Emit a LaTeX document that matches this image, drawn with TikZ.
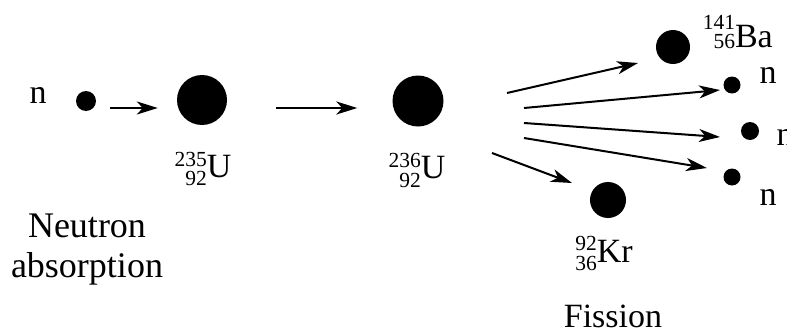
\documentclass[tikz,border=0pt]{standalone}
\usepackage{fontspec}
\setmainfont{Liberation Serif}
\usetikzlibrary{arrows.meta}
\newcommand\supsz{\fontsize{21.5}{21.5}\selectfont}
% \nuc{mass}{charge}{symbol}{raise of mass}{lowering of charge}
\newcommand\nuc[5]{{\supsz\setbox0\hbox{#1}\setbox2\hbox{#2}%
  \dimen0=\wd0 \ifdim\wd2>\dimen0 \dimen0=\wd2\fi
  \hbox to\dimen0{\hss\raise#4\box0}\llap{\lower#5\box2}}#3}
\begin{document}
\begin{tikzpicture}[x=1pt,y=-1pt,
  txt/.style={inner sep=0pt, anchor=base, font=\fontsize{34}{40}\selectfont},
  big/.style={font=\fontsize{36}{40}\selectfont},
  ball/.style={circle, fill=black, inner sep=0pt, minimum size=#1},
  arr/.style={line width=2pt, -{Stealth[length=21pt, width=13pt, inset=6pt]}}]
\useasboundingbox (0,0) rectangle (787,332);
% particles
\node[ball=20pt] (d0) at (86,101) {};
\node[ball=50pt] (u235) at (202,100) {};
\node[ball=51pt] (u236) at (418,101) {};
\node[ball=34pt] (ba) at (673,47) {};
\node[ball=17pt] (n1) at (732,85) {};
\node[ball=18pt] (n2) at (750,131) {};
\node[ball=17pt] (n3) at (732,177) {};
\node[ball=36pt] (kr) at (608,200) {};
% labels
\node[txt] (ln0) at (38,103) {n};
\node[txt] (l235) at (203,177) {\nuc{235}{92}{U}{11pt}{8pt}};
\node[txt] (l236) at (417,178) {\nuc{236}{92}{U}{11pt}{9pt}};
\node[txt, anchor=base east] (lba) at (773,47) {\nuc{141}{56}{Ba}{18pt}{1pt}};
\node[txt] (lkr) at (604,262) {\nuc{92}{36}{Kr}{12pt}{8pt}};
\node[txt] (ln1) at (768,83) {n};
\node[txt] (ln2) at (785,145) {n};
\node[txt] (ln3) at (768,205) {n};
\node[txt, big, align=center] (labs) at (87,277) {Neutron\\absorption};
\node[txt] (lfis) at (613,327) {Fission};
% arrows
\draw[arr, shorten <=14pt, shorten >=19pt] ([yshift=-7pt]d0.east) -- ([yshift=-8pt]u235.west);
\draw[arr, shorten <=49pt, shorten >=35pt] ([yshift=-8pt]u235.east) -- ([yshift=-7pt]u236.west);
\coordinate (s1) at (507,93);  \coordinate (t1) at (638,63);
\coordinate (s2) at (524,108); \coordinate (t2) at (720,90);
\coordinate (s3) at (524,123); \coordinate (t3) at (720,137);
\coordinate (s4) at (524,138); \coordinate (t4) at (707,168);
\coordinate (s5) at (492,153); \coordinate (t5) at (572,183);
\draw[arr] (s1) -- (t1);
\draw[arr] (s2) -- (t2);
\draw[arr] (s3) -- (t3);
\draw[arr] (s4) -- (t4);
\draw[arr] (s5) -- (t5);
\end{tikzpicture}
\end{document}
